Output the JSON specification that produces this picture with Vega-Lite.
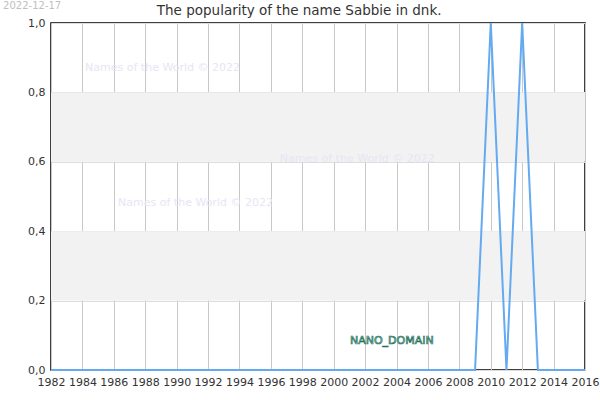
{
  "$schema": "https://vega.github.io/schema/vega-lite/v6.json",
  "autosize": {"type": "none"},
  "width": 534,
  "height": 347,
  "padding": {"left": 51, "top": 23, "right": 15, "bottom": 30},
  "background": "white",
  "config": {
    "font": "DejaVu Sans",
    "view": {"stroke": "black", "strokeWidth": 1.5},
    "axis": {"labelFont": "DejaVu Sans", "labelFontSize": 11, "labelColor": "#333333", "ticks": false, "domain": false, "title": null}
  },
  "datasets": {
    "popularity": [
      {"year": 1982, "value": 0}, {"year": 1983, "value": 0}, {"year": 1984, "value": 0},
      {"year": 1985, "value": 0}, {"year": 1986, "value": 0}, {"year": 1987, "value": 0},
      {"year": 1988, "value": 0}, {"year": 1989, "value": 0}, {"year": 1990, "value": 0},
      {"year": 1991, "value": 0}, {"year": 1992, "value": 0}, {"year": 1993, "value": 0},
      {"year": 1994, "value": 0}, {"year": 1995, "value": 0}, {"year": 1996, "value": 0},
      {"year": 1997, "value": 0}, {"year": 1998, "value": 0}, {"year": 1999, "value": 0},
      {"year": 2000, "value": 0}, {"year": 2001, "value": 0}, {"year": 2002, "value": 0},
      {"year": 2003, "value": 0}, {"year": 2004, "value": 0}, {"year": 2005, "value": 0},
      {"year": 2006, "value": 0}, {"year": 2007, "value": 0}, {"year": 2008, "value": 0},
      {"year": 2009, "value": 0}, {"year": 2010, "value": 1}, {"year": 2011, "value": 0},
      {"year": 2012, "value": 1}, {"year": 2013, "value": 0}, {"year": 2014, "value": 0},
      {"year": 2015, "value": 0}, {"year": 2016, "value": 0}
    ],
    "bands": [
      {"low": 0.2, "high": 0.4},
      {"low": 0.6, "high": 0.8}
    ],
    "watermarks": [
      {"year": 1989.1, "value": 0.87, "label": "Names of the World © 2022"},
      {"year": 2001.5, "value": 0.607, "label": "Names of the World © 2022"},
      {"year": 1991.2, "value": 0.48, "label": "Names of the World © 2022"}
    ],
    "domainTag": [
      {"year": 2003.7, "value": 0.083, "label": "NANO_DOMAIN"}
    ],
    "headings": [
      {"year": 1997.8, "value": 1.035, "label": "The popularity of the name Sabbie in dnk.", "kind": "title"},
      {"year": 1980.8, "value": 1.05, "label": "2022-12-17", "kind": "stamp"}
    ]
  },
  "layer": [
    {
      "data": {"name": "bands"},
      "mark": {"type": "rect", "color": "#f2f2f2"},
      "encoding": {
        "y": {"field": "low", "type": "quantitative", "scale": {"domain": [0, 1], "nice": false}},
        "y2": {"field": "high"}
      }
    },
    {
      "data": {"name": "popularity"},
      "mark": {"type": "line", "color": "#64aaf0", "strokeWidth": 2},
      "encoding": {
        "x": {
          "field": "year", "type": "quantitative",
          "scale": {"domain": [1982, 2016], "nice": false, "zero": false},
          "axis": {"values": [1982, 1984, 1986, 1988, 1990, 1992, 1994, 1996, 1998, 2000, 2002, 2004, 2006, 2008, 2010, 2012, 2014, 2016], "tickCount": 40, "format": "d", "grid": true, "gridColor": "#c8c8c8", "gridWidth": 1, "labelPadding": 6, "labelOverlap": false, "labelFlush": false, "labelBound": false}
        },
        "y": {
          "field": "value", "type": "quantitative",
          "scale": {"domain": [0, 1], "nice": false},
          "axis": {"values": [0, 0.2, 0.4, 0.6, 0.8, 1], "tickCount": 10, "labelExpr": "replace(format(datum.value, '.1f'), '.', ',')", "grid": true, "gridColor": "#dddddd", "labelPadding": 6, "labelOverlap": false, "labelFlush": false}
        }
      }
    },
    {
      "data": {"name": "watermarks"},
      "mark": {"type": "text", "color": "#e6e6f5", "fontSize": 11, "align": "center", "baseline": "middle"},
      "encoding": {
        "x": {"field": "year", "type": "quantitative"},
        "y": {"field": "value", "type": "quantitative"},
        "text": {"field": "label"}
      }
    },
    {
      "data": {"name": "domainTag"},
      "mark": {"type": "text", "fill": "#cdeee2", "stroke": "#22705a", "strokeWidth": 0.7, "fontSize": 11, "align": "center", "baseline": "middle"},
      "encoding": {
        "x": {"field": "year", "type": "quantitative"},
        "y": {"field": "value", "type": "quantitative"},
        "text": {"field": "label"}
      }
    },
    {
      "data": {"name": "headings"},
      "mark": {"type": "text", "align": "center", "baseline": "middle"},
      "encoding": {
        "x": {"field": "year", "type": "quantitative"},
        "y": {"field": "value", "type": "quantitative"},
        "text": {"field": "label"},
        "color": {"field": "kind", "type": "nominal", "scale": {"domain": ["title", "stamp"], "range": ["#333333", "#c0c0c0"]}, "legend": null},
        "size": {"field": "kind", "type": "nominal", "scale": {"domain": ["title", "stamp"], "range": [13.5, 10]}, "legend": null}
      }
    }
  ]
}
